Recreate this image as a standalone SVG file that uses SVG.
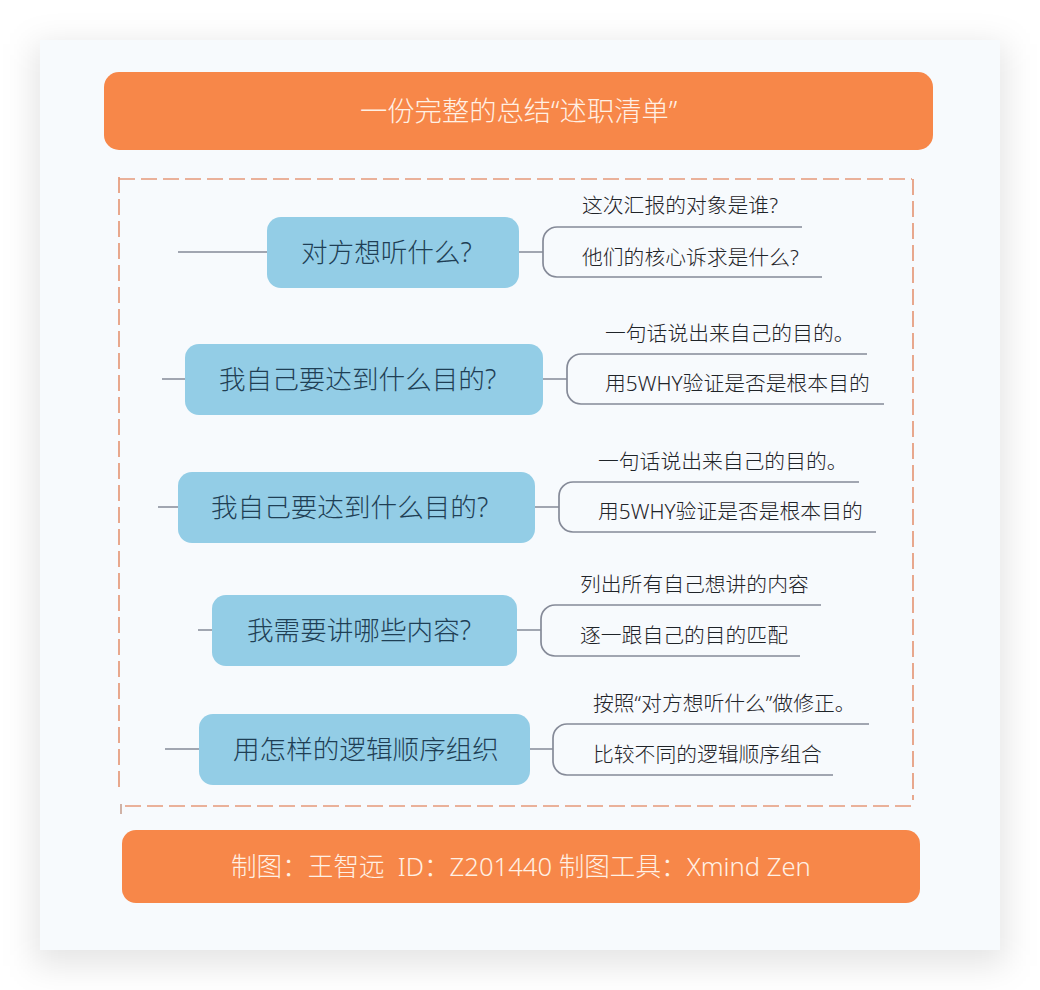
<svg xmlns="http://www.w3.org/2000/svg" width="1040" height="990" viewBox="0 0 1040 990">
<style>
text{font-family:"Noto Sans","Noto Sans CJK SC",sans-serif;dominant-baseline:central}
.bar{fill:#f78749}
.barT{fill:#fff0e4;font-weight:300}
.node{fill:#93cde6}
.nodeT{fill:#1f3f55;font-size:26.6px;font-weight:300}
.sub{fill:#1f2429;font-size:20.8px;font-weight:300}
.c{fill:none;stroke:#858a98;stroke-width:1.7}
.d{fill:none;stroke:#e6997a;stroke-width:1.7;stroke-dasharray:16 6}
</style>
<defs>
<filter id="sh" x="-10%" y="-10%" width="120%" height="120%"><feGaussianBlur stdDeviation="16"/></filter>
</defs>
<rect width="1040" height="990" fill="#fff"/>
<rect x="34" y="44" width="972" height="922" fill="#000" fill-opacity=".1" filter="url(#sh)"/>
<rect id="panel" x="40" y="40" width="960" height="910" fill="#f7fafd"/>
<g id="frame">
<path class="d" d="M119 179H912"/>
<path class="d" d="M119 177V788"/>
<path class="d" d="M913 179V800"/>
<path class="d" d="M125 806H912"/>
<path class="c" style="stroke:#c9a597" d="M121 804V814"/>
</g>
<g id="connectors">
<path class="c" d="M178 252H267M519 252H543M802 227H557A14 14 0 0 0 543 241V263A14 14 0 0 0 557 277H822"/>
<path class="c" d="M162 379H185M543 379H567M867 354H581A14 14 0 0 0 567 368V390A14 14 0 0 0 581 404H884"/>
<path class="c" d="M158 507H178M535 507H559M859 482H573A14 14 0 0 0 559 496V518A14 14 0 0 0 573 532H876"/>
<path class="c" d="M198 630H212M517 630H541M821 605H555A14 14 0 0 0 541 619V642A14 14 0 0 0 555 656H800"/>
<path class="c" d="M165 749H199M530 749H553M869 724H567A14 14 0 0 0 553 738V761A14 14 0 0 0 567 775H833"/>
</g>
<g id="title"><rect class="bar" x="104" y="72" width="829" height="78" rx="15"/><text class="barT" x="360" y="110" font-size="27.3">一份完整的总结“述职清单”</text></g>
<g id="n1"><rect class="node" x="267" y="217" width="252" height="71" rx="14"/><text class="nodeT" x="301" y="252">对方想听什么?</text></g>
<g id="n2"><rect class="node" x="185" y="344" width="358" height="71" rx="14"/><text class="nodeT" x="219" y="379">我自己要达到什么目的?</text></g>
<g id="n3"><rect class="node" x="178" y="472" width="357" height="71" rx="14"/><text class="nodeT" x="211" y="507">我自己要达到什么目的?</text></g>
<g id="n4"><rect class="node" x="212" y="595" width="305" height="71" rx="14"/><text class="nodeT" x="247" y="630">我需要讲哪些内容?</text></g>
<g id="n5"><rect class="node" x="199" y="714" width="331" height="71" rx="14"/><text class="nodeT" x="233" y="749">用怎样的逻辑顺序组织</text></g>
<g id="s1"><text class="sub" x="582" y="205">这次汇报的对象是谁?</text></g>
<g id="s2"><text class="sub" x="582" y="257">他们的核心诉求是什么?</text></g>
<g id="s3"><text class="sub" x="605" y="333">一句话说出来自己的目的。</text></g>
<g id="s4"><text class="sub" x="605" y="383">用5WHY验证是否是根本目的</text></g>
<g id="s5"><text class="sub" x="598" y="461">一句话说出来自己的目的。</text></g>
<g id="s6"><text class="sub" x="598" y="511">用5WHY验证是否是根本目的</text></g>
<g id="s7"><text class="sub" x="580" y="584">列出所有自己想讲的内容</text></g>
<g id="s8"><text class="sub" x="580" y="635">逐一跟自己的目的匹配</text></g>
<g id="s9"><text class="sub" x="593" y="703">按照“对方想听什么”做修正。</text></g>
<g id="s10"><text class="sub" x="593" y="754">比较不同的逻辑顺序组合</text></g>
<g id="footer"><rect class="bar" x="122" y="830" width="798" height="73" rx="14"/><text class="barT" x="231" y="866" font-size="25.6" xml:space="preserve">制图：王智远  ID：Z201440 制图工具：Xmind Zen</text></g>
</svg>
